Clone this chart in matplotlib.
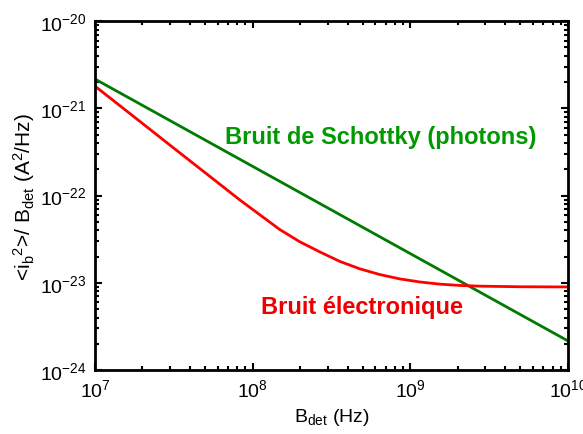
import matplotlib
matplotlib.use("Agg")
import matplotlib.pyplot as plt
from matplotlib.ticker import LogLocator, NullFormatter
import numpy as np

plt.rcParams['font.family'] = ['Liberation Sans', 'DejaVu Sans']
plt.rcParams['mathtext.fontset'] = 'custom'
plt.rcParams['mathtext.rm'] = 'Liberation Sans'
plt.rcParams['mathtext.it'] = 'Liberation Sans'
plt.rcParams['mathtext.default'] = 'regular'

# Data (log10 values)
green_logB = [7.0, 10.0]
green_logN = [-20.664, -23.665]

red_logB = [7.0, 7.25, 7.507, 7.75, 7.919, 8.046, 8.173, 8.300, 8.427, 8.554,
            8.681, 8.807, 8.934, 9.061, 9.188, 9.315, 9.441, 9.7, 10.0]
red_logN = [-20.745, -21.10, -21.466, -21.81, -22.05, -22.22, -22.39, -22.53,
            -22.646, -22.755, -22.84, -22.905, -22.955, -22.990, -23.015, -23.030,
            -23.038, -23.045, -23.047]

green_B = 10 ** np.array(green_logB)
green_N = 10 ** np.array(green_logN)
red_B = 10 ** np.array(red_logB)
red_N = 10 ** np.array(red_logN)

label_schottky = "Bruit de Schottky (photons)"
label_elec = "Bruit électronique"

fig = plt.figure(figsize=(5.83, 4.35), dpi=100)
ax = fig.add_axes([0.163, 0.147, 0.811, 0.802])

ax.plot(green_B, green_N, color='#007a00', lw=2.0)
ax.plot(red_B, red_N, color='#ff0000', lw=2.0)

ax.set_xscale('log')
ax.set_yscale('log')
ax.set_xlim(1e7, 1e10)
ax.set_ylim(1e-24, 1e-20)

ax.xaxis.set_major_locator(LogLocator(base=10, numticks=10))
ax.yaxis.set_major_locator(LogLocator(base=10, numticks=10))
ax.xaxis.set_minor_locator(LogLocator(base=10, subs=np.arange(2, 10), numticks=20))
ax.yaxis.set_minor_locator(LogLocator(base=10, subs=np.arange(2, 10), numticks=20))
ax.xaxis.set_minor_formatter(NullFormatter())
ax.yaxis.set_minor_formatter(NullFormatter())

ax.tick_params(which='both', direction='in', top=True, right=True, labelsize=14, width=1.5)
ax.tick_params(which='major', length=5, pad=6)
ax.tick_params(which='minor', length=3)
for s in ax.spines.values():
    s.set_linewidth(2.0)

ax.set_xlabel(r'B$_{det}$ (Hz)', fontsize=14, labelpad=4)
ax.set_ylabel(r'<i$_b$$^2$>/ B$_{det}$ (A$^2$/Hz)', fontsize=15, labelpad=2)

ax.text(0.605, 0.67, label_schottky, transform=ax.transAxes, color='#009900',
        fontsize=17, fontweight='bold', ha='center', va='center')
ax.text(0.564, 0.183, label_elec, transform=ax.transAxes, color='#ee0000',
        fontsize=17, fontweight='bold', ha='center', va='center')

fig.savefig('out.png', dpi=100)
